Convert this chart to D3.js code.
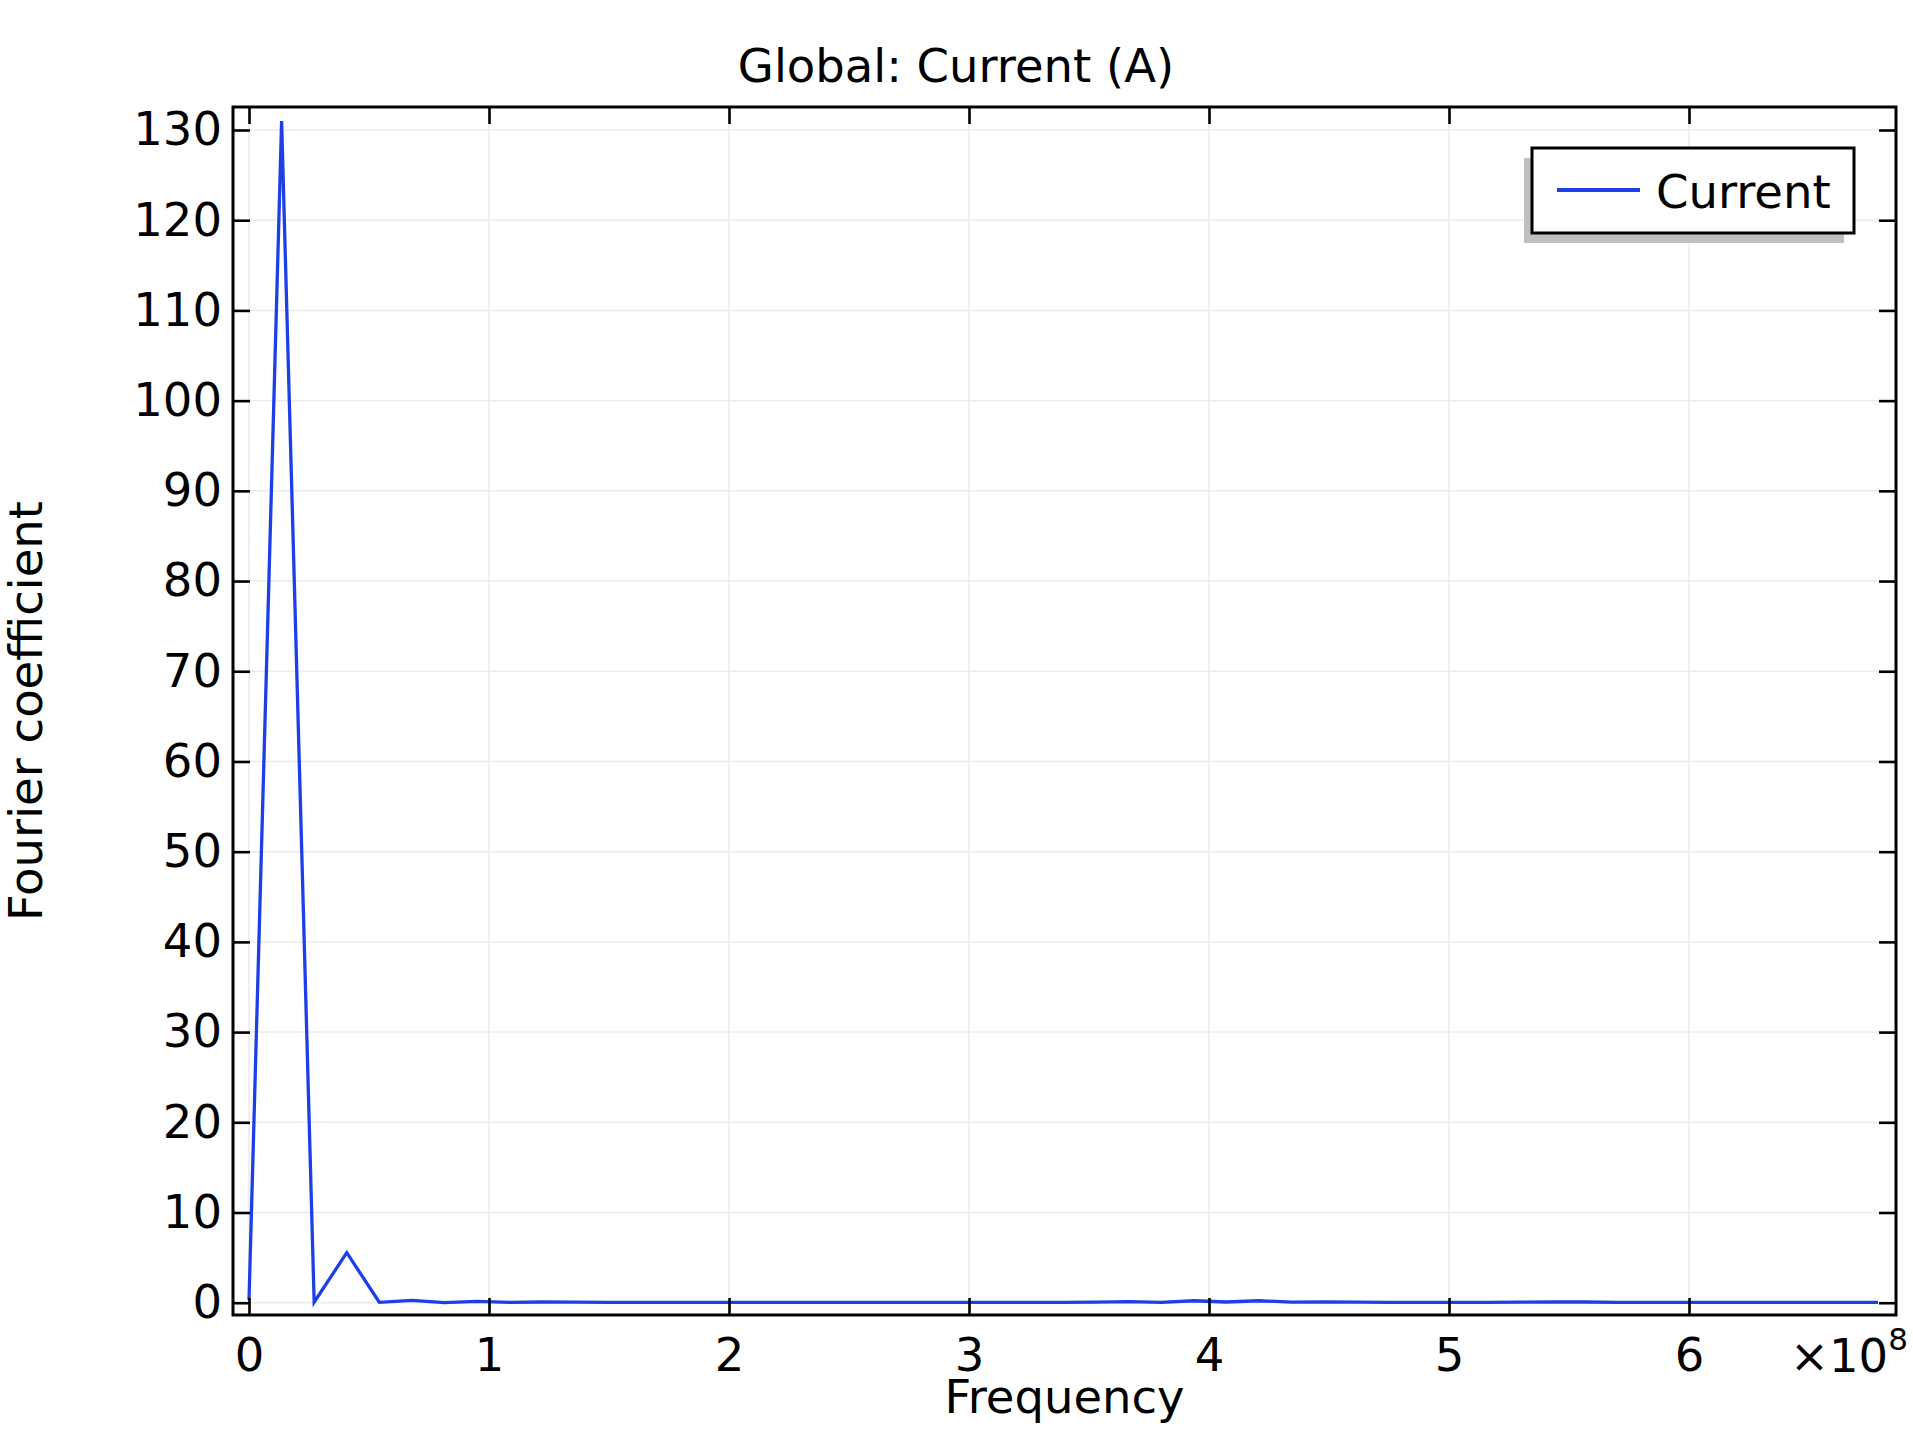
<!DOCTYPE html>
<html>
<head>
<meta charset="utf-8">
<script src="https://cdn.jsdelivr.net/npm/d3@7"></script>
<style>
  html, body { margin: 0; padding: 0; background: #fff; }
  svg { display: block; font-family: "DejaVu Sans", sans-serif; }
</style>
</head>
<body>
<script>
// Frequency (units of 1e8 Hz)
const frequency = [
  0, 0.1358, 0.2715, 0.4073, 0.5430, 0.6788, 0.8145, 0.9503, 1.0860, 1.2218,
  1.3575, 1.4933, 1.6290, 1.7648, 1.9005, 2.0363, 2.1720, 2.3078, 2.4435, 2.5793,
  2.7150, 2.8508, 2.9865, 3.1223, 3.2580, 3.3938, 3.5295, 3.6653, 3.8010, 3.9368,
  4.0725, 4.2083, 4.3440, 4.4798, 4.6155, 4.7513, 4.8870, 5.0228, 5.1585, 5.2943,
  5.4300, 5.5658, 5.7015, 5.8373, 5.9730, 6.1088, 6.2445, 6.3803, 6.5160, 6.6518,
  6.7875
];
// Fourier coefficient of Current
const current = [
  0.3, 131.0, 0.05, 5.55, 0.05, 0.25, 0.02, 0.15, 0.05, 0.08,
  0.06, 0.05, 0.05, 0.04, 0.04, 0.04, 0.03, 0.04, 0.04, 0.04,
  0.04, 0.04, 0.04, 0.04, 0.05, 0.05, 0.06, 0.12, 0.05, 0.22,
  0.08, 0.22, 0.07, 0.08, 0.06, 0.05, 0.04, 0.04, 0.05, 0.06,
  0.08, 0.08, 0.05, 0.04, 0.04, 0.05, 0.04, 0.04, 0.04, 0.04,
  0.04
];
const xTicks = [0, 1, 2, 3, 4, 5, 6];
const yTicks = [0, 10, 20, 30, 40, 50, 60, 70, 80, 90, 100, 110, 120, 130];
const titleText = "Global: Current (A)";
const xLabel = "Frequency";
const yLabel = "Fourier coefficient";
const seriesName = "Current";

const W = 1913, H = 1435;
const L = 233, R = 1896, T = 107, B = 1315;
const FS = 46.5;
const blue = "#1c3fe6";

const svg = d3.select("body").append("svg").attr("width", W).attr("height", H);

const x = d3.scaleLinear().domain([-0.0667, 6.8625]).range([L, R]);
const y = d3.scaleLinear().domain([-1.36, 132.55]).range([B, T]);

// grid
const grid = svg.append("g");
grid.selectAll("line.v").data(xTicks).join("line")
  .attr("x1", d => x(d)).attr("x2", d => x(d)).attr("y1", T).attr("y2", B)
  .attr("stroke", "#ebebeb").attr("stroke-width", 1.5);
grid.selectAll("line.h").data(yTicks).join("line")
  .attr("x1", L).attr("x2", R).attr("y1", d => y(d)).attr("y2", d => y(d))
  .attr("stroke", "#ebebeb").attr("stroke-width", 1.5);

// data line
const pts = frequency.map((f, i) => [f, current[i]]);
svg.append("path").datum(pts)
  .attr("fill", "none").attr("stroke", blue).attr("stroke-width", 3.3)
  .attr("stroke-linejoin", "miter")
  .attr("d", d3.line().x(d => x(d[0])).y(d => y(d[1])));

// axes
function styleAxis(g) {
  g.select(".domain").remove();
  g.selectAll(".tick line").attr("stroke", "#000").attr("stroke-width", 2.6);
  g.selectAll(".tick text").attr("fill", "#000").attr("font-size", FS)
    .attr("font-family", "DejaVu Sans");
}
svg.append("g").attr("transform", `translate(0,${B})`)
  .call(d3.axisBottom(x).tickValues(xTicks).tickSize(-17).tickPadding(23).tickFormat(d3.format("d")))
  .call(styleAxis);
svg.append("g").attr("transform", `translate(0,${T})`)
  .call(d3.axisTop(x).tickValues(xTicks).tickSize(-17).tickFormat(""))
  .call(styleAxis);
svg.append("g").attr("transform", `translate(${L},0)`)
  .call(d3.axisLeft(y).tickValues(yTicks).tickSize(-17).tickPadding(11).tickFormat(d3.format("d")))
  .call(styleAxis);
svg.append("g").attr("transform", `translate(${R},0)`)
  .call(d3.axisRight(y).tickValues(yTicks).tickSize(-17).tickFormat(""))
  .call(styleAxis);

// frame
svg.append("rect").attr("x", L).attr("y", T).attr("width", R - L).attr("height", B - T)
  .attr("fill", "none").attr("stroke", "#000").attr("stroke-width", 3);

// exponent
const ex = svg.append("text").attr("x", 1790).attr("y", 1372).attr("font-size", FS).attr("fill", "#000");
ex.append("tspan").text("\u00d710");
ex.append("tspan").attr("font-size", 31).attr("dy", -22).text("8");

// title & labels
svg.append("text").attr("x", 956).attr("y", 82).attr("text-anchor", "middle")
  .attr("font-size", FS).attr("fill", "#000").text(titleText);
svg.append("text").attr("x", (L + R) / 2).attr("y", 1413).attr("text-anchor", "middle")
  .attr("font-size", FS).attr("fill", "#000").text(xLabel);
svg.append("text").attr("transform", `translate(42,${(T + B) / 2}) rotate(-90)`)
  .attr("text-anchor", "middle").attr("font-size", FS).attr("fill", "#000").text(yLabel);

// legend
const lg = svg.append("g");
lg.append("rect").attr("x", 1524).attr("y", 158).attr("width", 320).attr("height", 85).attr("fill", "#c0c0c0");
lg.append("rect").attr("x", 1532).attr("y", 148).attr("width", 322).attr("height", 85)
  .attr("fill", "#fff").attr("stroke", "#000").attr("stroke-width", 3);
lg.append("line").attr("x1", 1557).attr("x2", 1640).attr("y1", 190).attr("y2", 190)
  .attr("stroke", blue).attr("stroke-width", 4);
lg.append("text").attr("x", 1656).attr("y", 208).attr("font-size", FS).attr("fill", "#000").text(seriesName);
</script>
</body>
</html>
